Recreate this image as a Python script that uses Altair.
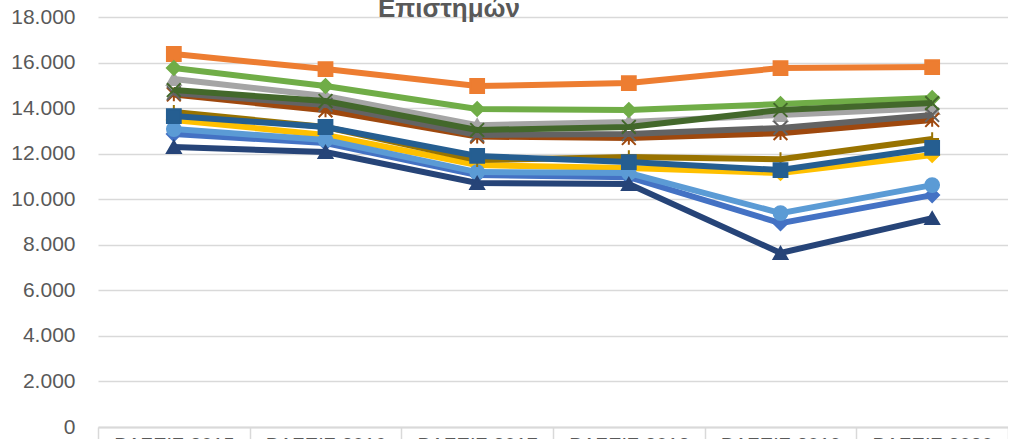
import altair as alt
import pandas as pd

years = ["ΒΑΣΕΙΣ 2015", "ΒΑΣΕΙΣ 2016", "ΒΑΣΕΙΣ 2017", "ΒΑΣΕΙΣ 2018", "ΒΑΣΕΙΣ 2019", "ΒΑΣΕΙΣ 2020"]

series_names = ["Σειρά 1", "Σειρά 2", "Σειρά 3", "Σειρά 4", "Σειρά 5", "Σειρά 6",
                "Σειρά 7", "Σειρά 8", "Σειρά 9", "Σειρά 10", "Σειρά 11", "Σειρά 12"]

s01 = [12860, 12470, 11060, 10970, 8950, 10180]
s02 = [16375, 15716, 14970, 15100, 15760, 15800]
s03 = [15280, 14530, 13250, 13390, 13700, 14000]
s04 = [13480, 12820, 11500, 11370, 11150, 11940]
s05 = [13080, 12600, 11190, 11150, 9390, 10620]
s06 = [15760, 14970, 13960, 13916, 14180, 14440]
s07 = [12290, 12070, 10710, 10670, 7640, 9170]
s08 = [14600, 13900, 12750, 12690, 12900, 13480]
s09 = [14660, 14140, 12820, 12860, 13130, 13700]
s10 = [13830, 13170, 11720, 11850, 11760, 12640]
s11 = [13650, 13170, 11900, 11630, 11280, 12250]
s12 = [14790, 14310, 13040, 13170, 13916, 14220]

all_series = [s01, s02, s03, s04, s05, s06, s07, s08, s09, s10, s11, s12]

colors = ["#4472C4", "#ED7D31", "#A5A5A5", "#FFC000", "#5B9BD5", "#70AD47",
          "#264478", "#9E480E", "#636363", "#997300", "#255E91", "#43682B"]

X_PATH = "M-1,-1L1,1M-1,1L1,-1"
PLUS_PATH = "M-1,0L1,0M0,-1L0,1"
STAR_PATH = "M-1,-1L1,1M-1,1L1,-1M0,-1L0,1"
shapes = ["diamond", "square", "triangle-up", "diamond", "circle", "diamond",
          "triangle-up", STAR_PATH, X_PATH, PLUS_PATH, "square", X_PATH]

title_text = ["Επιστημών"]

rows = []
for name, vals in zip(series_names, all_series):
    for yr, v in zip(years, vals):
        rows.append({"year": yr, "series": name, "value": v})
df = pd.DataFrame(rows)

FONT = "Liberation Sans"
TXT = "#595959"
GRID = "#D9D9D9"

x_enc = alt.X(
    "year:N",
    sort=years,
    scale=alt.Scale(type="band", paddingInner=0, paddingOuter=0),
    axis=alt.Axis(
        title=None, labelAngle=0, labelFont=FONT, labelFontSize=20, labelColor=TXT,
        domainColor=GRID, domainWidth=2, tickBand="extent", tickSize=22,
        tickColor=GRID, tickWidth=1.5, labelPadding=-14, grid=False,
    ),
)
y_enc = alt.Y(
    "value:Q",
    scale=alt.Scale(domain=[0, 18000], nice=False),
    axis=alt.Axis(
        title=None, values=list(range(0, 18001, 2000)),
        labelExpr="replace(format(datum.value, ','), ',', '.')",
        labelFont=FONT, labelFontSize=21, labelColor=TXT, labelPadding=23,
        domain=False, ticks=False, grid=True, gridColor=GRID, gridWidth=1.5,
    ),
)
color_enc = alt.Color("series:N", scale=alt.Scale(domain=series_names, range=colors), legend=None)
stroke_enc = alt.Stroke("series:N", scale=alt.Scale(domain=series_names, range=colors), legend=None)
shape_enc = alt.Shape("series:N", scale=alt.Scale(domain=series_names, range=shapes), legend=None)

base = alt.Chart(df)
layers = []
for name in series_names:
    b = base.transform_filter(alt.datum.series == name)
    layers.append(b.mark_line(strokeWidth=6).encode(x=x_enc, y=y_enc, color=color_enc))
    layers.append(
        b.mark_point(filled=True, size=190, strokeWidth=2, opacity=1).encode(
            x=x_enc, y=y_enc, fill=color_enc, stroke=stroke_enc, shape=shape_enc
        )
    )

title_layer = alt.Chart(pd.DataFrame({"t": title_text})).mark_text(
    font=FONT, fontSize=26, fontWeight="bold", color=TXT, align="center", baseline="alphabetic"
).encode(text="t:N", x=alt.value(351), y=alt.value(0))
layers.append(title_layer)

chart = alt.layer(*layers).properties(
    width=910,
    height=410,
    autosize=alt.AutoSizeParams(type="none"),
    padding={"left": 90, "top": 17, "right": 0, "bottom": 22},
).configure_view(stroke=None)

chart.save(
    "out.html",
    embed_options={
        "renderer": "svg",
        "actions": False,
        "defaultStyle": "body{margin:0 0 0 8px !important;overflow:hidden}",
    },
)
